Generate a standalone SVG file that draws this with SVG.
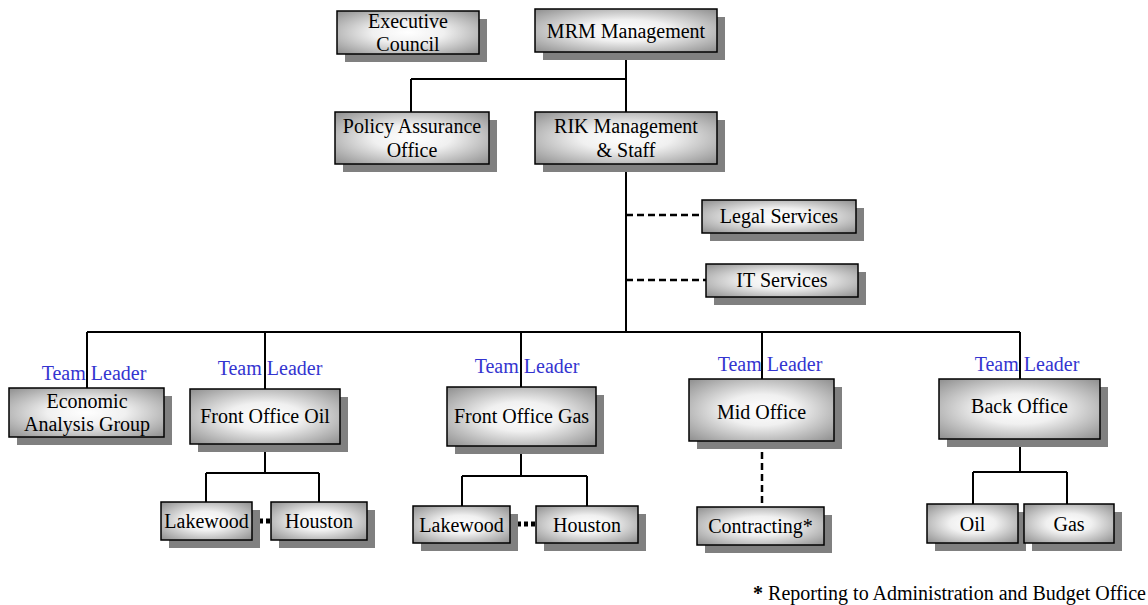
<svg xmlns="http://www.w3.org/2000/svg" width="1148" height="605" viewBox="0 0 1148 605">
<defs>
<radialGradient id="g" cx="50%" cy="50%" r="72%">
<stop offset="0%" stop-color="#ffffff"/>
<stop offset="35%" stop-color="#f0f0f0"/>
<stop offset="100%" stop-color="#8a8a8a"/>
</radialGradient>
</defs>
<style>
.sh{fill:#808080}
.bx{fill:url(#g);stroke:#000;stroke-width:1.5}
.t{font-family:'Liberation Serif','Times New Roman','DejaVu Serif',serif;font-size:20px;fill:#000;text-anchor:middle}
.tl{font-family:'Liberation Serif','Times New Roman','DejaVu Serif',serif;font-size:20px;fill:#3434d0;text-anchor:middle}
.ln{stroke:#000;stroke-width:2;fill:none}
.ds{stroke:#000;stroke-width:2.5;fill:none;stroke-dasharray:7,4}
.dt{stroke:#000;stroke-width:5;fill:none;stroke-dasharray:4,3}
</style>
<rect width="1148" height="605" fill="#fff"/>
<g id="connectors">
<path class="ln" d="M626 52V112M411 79H626M411 79V112"/>
<path class="ln" d="M626 164V332" stroke-width="2.5"/>
<path class="ds" d="M626 215H702M626 280H706"/>
<path class="ln" d="M87 332H1020M87 332V388M265 332V389M521 332V387M762 332V379M1020 332V379"/>
<path class="ln" d="M265 444V473M206 473H319M206 473V502M319 473V502"/>
<path class="ln" d="M521 446V476M462 476H587M462 476V506M587 476V506"/>
<path class="ds" d="M762 441V507"/>
<path class="ln" d="M1020 439V472M973 472H1067M973 472V504M1067 472V504"/>
<path class="dt" d="M252 521H271M510 524H536"/>
</g>
<g id="executive-council"><rect class="sh" x="345" y="19" width="142" height="43"/><rect class="bx" x="337" y="11" width="142" height="43"/><text class="t" x="408" y="28">Executive</text><text class="t" x="408" y="51">Council</text></g>
<g id="mrm-management"><rect class="sh" x="543" y="17" width="182" height="43"/><rect class="bx" x="535" y="9" width="182" height="43"/><text class="t" x="626" y="38">MRM Management</text></g>
<g id="policy-assurance"><rect class="sh" x="343" y="120" width="154" height="52"/><rect class="bx" x="335" y="112" width="154" height="52"/><text class="t" x="412" y="133">Policy Assurance</text><text class="t" x="412" y="157">Office</text></g>
<g id="rik-management"><rect class="sh" x="543" y="120" width="182" height="52"/><rect class="bx" x="535" y="112" width="182" height="52"/><text class="t" x="626" y="133">RIK Management</text><text class="t" x="626" y="157">&amp; Staff</text></g>
<g id="legal-services"><rect class="sh" x="710" y="208" width="154" height="33"/><rect class="bx" x="702" y="200" width="154" height="33"/><text class="t" x="779" y="223">Legal Services</text></g>
<g id="it-services"><rect class="sh" x="714" y="272" width="152" height="33"/><rect class="bx" x="706" y="264" width="152" height="33"/><text class="t" x="782" y="287">IT Services</text></g>
<g id="economic-analysis"><text class="tl" x="94" y="380">Team Leader</text><rect class="sh" x="17" y="396" width="155" height="49"/><rect class="bx" x="9" y="388" width="155" height="49"/><text class="t" x="87" y="408">Economic</text><text class="t" x="87" y="431">Analysis Group</text></g>
<g id="front-office-oil"><text class="tl" x="270" y="375">Team Leader</text><rect class="sh" x="198" y="397" width="150" height="55"/><rect class="bx" x="190" y="389" width="150" height="55"/><text class="t" x="265" y="423">Front Office Oil</text></g>
<g id="front-office-gas"><text class="tl" x="527" y="373">Team Leader</text><rect class="sh" x="455" y="395" width="149" height="59"/><rect class="bx" x="447" y="387" width="149" height="59"/><text class="t" x="521.5" y="423">Front Office Gas</text></g>
<g id="mid-office"><text class="tl" x="770" y="371">Team Leader</text><rect class="sh" x="697" y="387" width="145" height="62"/><rect class="bx" x="689" y="379" width="145" height="62"/><text class="t" x="761.5" y="419">Mid Office</text></g>
<g id="back-office"><text class="tl" x="1027" y="371">Team Leader</text><rect class="sh" x="947" y="387" width="161" height="60"/><rect class="bx" x="939" y="379" width="161" height="60"/><text class="t" x="1019.5" y="413">Back Office</text></g>
<g id="lakewood-oil"><rect class="sh" x="169" y="510" width="91" height="38"/><rect class="bx" x="161" y="502" width="91" height="38"/><text class="t" x="206.5" y="528">Lakewood</text></g>
<g id="houston-oil"><rect class="sh" x="279" y="510" width="96" height="38"/><rect class="bx" x="271" y="502" width="96" height="38"/><text class="t" x="319" y="528">Houston</text></g>
<g id="lakewood-gas"><rect class="sh" x="421" y="514" width="97" height="37"/><rect class="bx" x="413" y="506" width="97" height="37"/><text class="t" x="461.5" y="532">Lakewood</text></g>
<g id="houston-gas"><rect class="sh" x="544" y="514" width="102" height="37"/><rect class="bx" x="536" y="506" width="102" height="37"/><text class="t" x="587" y="532">Houston</text></g>
<g id="contracting"><rect class="sh" x="705" y="515" width="127" height="38"/><rect class="bx" x="697" y="507" width="127" height="38"/><text class="t" x="760.5" y="533">Contracting*</text></g>
<g id="oil"><rect class="sh" x="935" y="512" width="91" height="39"/><rect class="bx" x="927" y="504" width="91" height="39"/><text class="t" x="972.5" y="531">Oil</text></g>
<g id="gas"><rect class="sh" x="1032" y="512" width="90" height="39"/><rect class="bx" x="1024" y="504" width="90" height="39"/><text class="t" x="1069" y="531">Gas</text></g>
<text class="t" x="1146" y="600" style="text-anchor:end;font-size:20px"><tspan font-weight="bold">*</tspan> Reporting to Administration and Budget Office</text>
</svg>
